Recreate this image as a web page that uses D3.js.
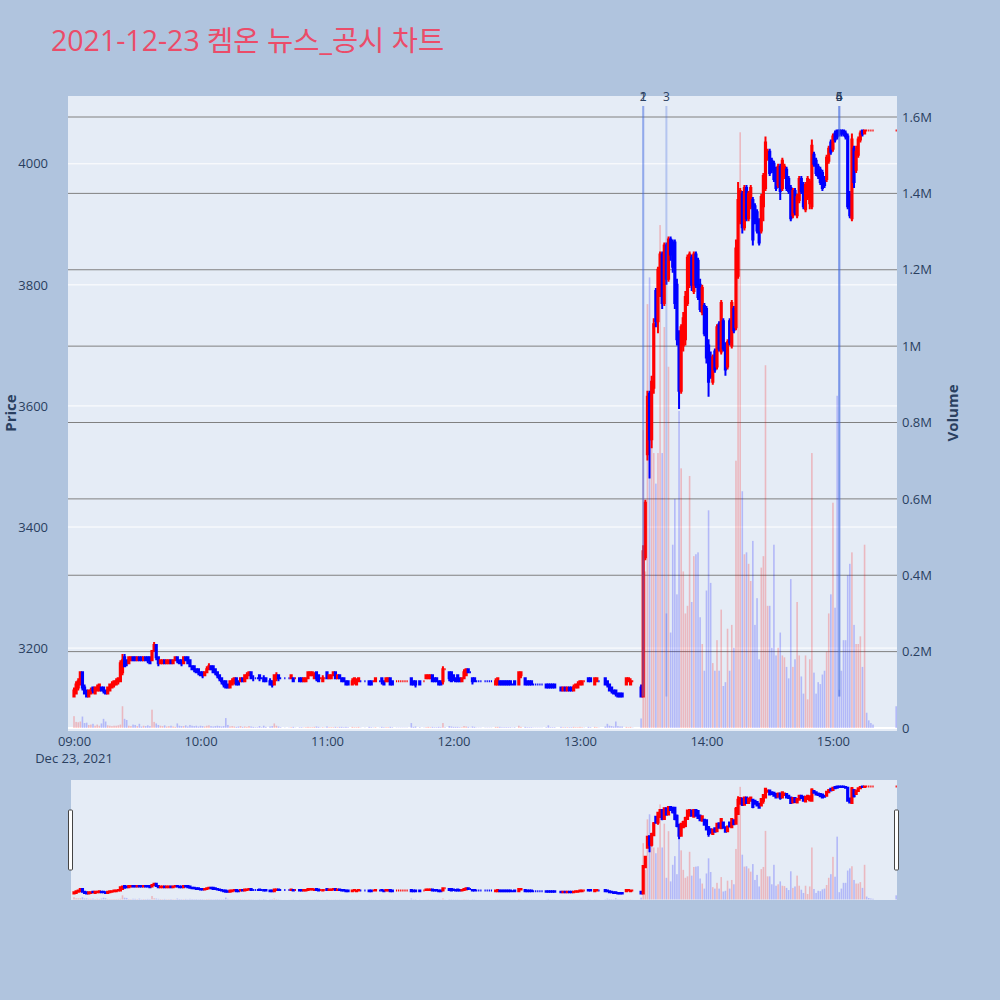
<!DOCTYPE html>
<html><head><meta charset="utf-8">
<script src="https://cdn.jsdelivr.net/npm/d3@7"></script>
<style>body{margin:0;background:#b0c4de}</style>
</head><body><div id="chart"></div>
<script>
const titleText = "2021-12-23 켐온 뉴스_공시 차트";
const tradeDay = "2021-12-23";
const times = [
"09:00","09:01","09:02","09:03","09:04","09:05","09:06","09:07","09:08","09:09",
"09:10","09:11","09:12","09:13","09:14","09:15","09:16","09:17","09:18","09:19",
"09:20","09:21","09:22","09:23","09:24","09:25","09:26","09:27","09:28","09:29",
"09:30","09:31","09:32","09:33","09:34","09:35","09:36","09:37","09:38","09:39",
"09:40","09:41","09:42","09:43","09:44","09:45","09:46","09:47","09:48","09:49",
"09:50","09:51","09:52","09:53","09:54","09:55","09:56","09:57","09:58","09:59",
"10:00","10:01","10:02","10:03","10:04","10:05","10:06","10:07","10:08","10:09",
"10:10","10:11","10:12","10:13","10:14","10:15","10:16","10:17","10:18","10:19",
"10:20","10:21","10:22","10:23","10:24","10:25","10:26","10:27","10:28","10:29",
"10:30","10:31","10:33","10:34","10:35","10:36","10:37","10:38","10:40","10:42",
"10:43","10:44","10:45","10:47","10:48","10:49","10:50","10:51","10:52","10:53",
"10:54","10:55","10:56","10:57","10:58","10:59","11:00","11:01","11:02","11:03",
"11:04","11:05","11:06","11:07","11:08","11:09","11:10","11:12","11:13","11:14",
"11:15","11:16","11:18","11:20","11:21","11:22","11:23","11:25","11:26","11:27",
"11:28","11:29","11:30","11:31","11:33","11:34","11:35","11:36","11:37","11:38",
"11:40","11:41","11:42","11:44","11:46","11:47","11:48","11:49","11:50","11:51",
"11:52","11:53","11:54","11:55","11:56","11:58","11:59","12:00","12:01","12:02",
"12:03","12:04","12:05","12:06","12:07","12:08","12:09","12:10","12:11","12:12",
"12:13","12:15","12:16","12:17","12:18","12:20","12:21","12:22","12:23","12:24",
"12:25","12:26","12:27","12:28","12:29","12:31","12:32","12:34","12:35","12:36",
"12:37","12:38","12:39","12:40","12:41","12:42","12:44","12:45","12:46","12:47",
"12:48","12:51","12:52","12:53","12:54","12:55","12:56","12:57","12:58","12:59",
"13:00","13:01","13:02","13:04","13:05","13:07","13:08","13:09","13:12","13:13",
"13:14","13:15","13:16","13:17","13:18","13:19","13:20","13:22","13:23","13:24",
"13:25","13:29","13:30","13:31","13:32","13:33","13:34","13:35","13:36","13:37",
"13:38","13:39","13:40","13:41","13:42","13:43","13:44","13:45","13:46","13:47",
"13:48","13:49","13:50","13:51","13:52","13:53","13:54","13:55","13:56","13:57",
"13:58","13:59","14:00","14:01","14:02","14:03","14:04","14:05","14:06","14:07",
"14:08","14:09","14:10","14:11","14:12","14:13","14:14","14:15","14:16","14:17",
"14:18","14:19","14:20","14:21","14:22","14:23","14:24","14:25","14:26","14:27",
"14:28","14:29","14:30","14:31","14:32","14:33","14:34","14:35","14:36","14:37",
"14:38","14:39","14:40","14:41","14:42","14:43","14:44","14:45","14:46","14:47",
"14:48","14:49","14:50","14:51","14:52","14:53","14:54","14:55","14:56","14:57",
"14:58","14:59","15:00","15:01","15:02","15:03","15:04","15:05","15:06","15:07",
"15:08","15:09","15:10","15:11","15:12","15:13","15:14","15:15","15:16","15:17",
"15:18","15:19","15:30"];
const open = [
3120,3125,3135,3140,3160,3135,3130,3120,3125,3135,
3125,3130,3130,3135,3135,3130,3125,3130,3135,3140,
3140,3145,3145,3160,3185,3180,3175,3180,3185,3185,
3180,3185,3185,3180,3185,3185,3185,3180,3195,3205,
3185,3175,3175,3180,3175,3175,3180,3175,3180,3185,
3180,3180,3175,3185,3185,3180,3170,3170,3165,3165,
3160,3160,3155,3160,3165,3170,3170,3165,3160,3155,
3150,3145,3145,3140,3135,3140,3145,3150,3145,3145,
3150,3145,3150,3155,3160,3150,3150,3150,3155,3150,
3150,3150,3145,3145,3140,3150,3155,3150,3150,3150,
3150,3150,3150,3150,3150,3145,3145,3150,3155,3155,
3150,3160,3155,3150,3145,3150,3160,3150,3150,3155,
3160,3150,3155,3150,3150,3145,3145,3140,3145,3140,
3145,3145,3145,3145,3145,3145,3145,3145,3150,3145,
3145,3145,3150,3145,3145,3145,3145,3145,3145,3145,
3150,3145,3145,3145,3145,3150,3150,3150,3155,3150,
3150,3145,3145,3145,3165,3160,3160,3155,3150,3155,
3150,3145,3150,3155,3165,3160,3150,3150,3145,3145,
3145,3145,3145,3145,3145,3140,3140,3145,3145,3145,
3145,3145,3145,3140,3145,3140,3155,3150,3145,3145,
3145,3140,3140,3140,3140,3140,3140,3140,3140,3140,
3140,3135,3130,3135,3130,3135,3135,3130,3135,3135,
3140,3140,3145,3150,3150,3140,3145,3145,3150,3145,
3140,3135,3130,3130,3125,3125,3125,3140,3145,3140,
3145,3135,3120,3350,3520,3620,3545,3630,3790,3740,
3790,3850,3770,3865,3810,3875,3870,3870,3800,3720,
3625,3700,3710,3770,3800,3845,3790,3850,3840,3800,
3755,3765,3760,3700,3680,3640,3690,3665,3735,3690,
3740,3700,3665,3740,3700,3760,3730,3815,3905,3950,
3895,3960,3910,3930,3940,3930,3920,3905,3890,3930,
3960,4010,4020,4005,4000,3990,3965,3995,3960,3980,
3990,3975,3960,3915,3955,3915,3940,3975,3965,3925,
3945,3935,3930,4015,4005,3995,3990,3985,3975,3975,
4005,4035,4025,4050,4055,4055,4055,4055,4050,4045,
3950,3910,4025,3990,4015,4040,4055,4050,4055,4055,
4055,4055,4055];
const high = [
3135,3145,3150,3160,3160,3140,3130,3130,3135,3135,
3135,3140,3140,3135,3135,3130,3135,3140,3145,3145,
3150,3150,3180,3190,3190,3180,3185,3185,3185,3185,
3185,3185,3185,3185,3185,3185,3185,3195,3210,3205,
3185,3180,3180,3180,3180,3180,3180,3180,3185,3185,
3180,3180,3185,3185,3185,3180,3170,3170,3165,3165,
3160,3160,3160,3170,3175,3170,3170,3165,3160,3155,
3150,3145,3145,3140,3145,3150,3150,3150,3145,3150,
3150,3155,3160,3160,3160,3155,3150,3150,3155,3150,
3155,3150,3150,3145,3155,3160,3155,3150,3150,3150,
3155,3150,3150,3150,3150,3150,3150,3160,3160,3160,
3160,3160,3155,3150,3155,3150,3160,3155,3155,3160,
3160,3155,3155,3150,3150,3145,3145,3150,3150,3150,
3150,3145,3145,3145,3145,3145,3150,3145,3150,3145,
3150,3150,3150,3145,3145,3145,3145,3145,3145,3145,
3150,3145,3145,3145,3145,3155,3155,3155,3155,3150,
3150,3145,3145,3170,3165,3160,3160,3155,3150,3155,
3150,3150,3165,3165,3165,3160,3150,3150,3145,3145,
3145,3145,3145,3145,3145,3150,3150,3145,3145,3145,
3145,3145,3145,3140,3145,3160,3160,3150,3145,3145,
3145,3140,3140,3140,3140,3140,3140,3140,3140,3140,
3140,3135,3135,3135,3135,3135,3135,3140,3140,3145,
3145,3145,3145,3150,3150,3150,3150,3145,3150,3145,
3140,3135,3130,3130,3125,3125,3125,3150,3150,3150,
3145,3140,3370,3445,3625,3625,3650,3745,3795,3830,
3855,3855,3870,3870,3880,3880,3875,3875,3810,3725,
3735,3755,3790,3850,3855,3850,3855,3855,3845,3810,
3800,3770,3765,3710,3690,3685,3695,3735,3740,3775,
3745,3705,3710,3745,3775,3765,3875,3970,3960,3955,
3965,3965,3955,3965,3945,3935,3925,3910,3950,3985,
4045,4025,4025,4010,4005,3995,4000,4000,4010,4000,
3995,3980,3965,3960,3960,3950,3980,3980,3970,3970,
3980,3975,4040,4020,4010,4000,3995,3990,3980,4015,
4030,4040,4050,4055,4055,4055,4055,4055,4055,4050,
3955,4050,4030,4030,4045,4055,4055,4055,4055,4055,
4055,4055,4055];
const low = [
3120,3125,3130,3140,3130,3125,3120,3120,3125,3125,
3125,3130,3130,3130,3125,3125,3125,3130,3135,3135,
3140,3140,3145,3155,3170,3170,3175,3180,3180,3180,
3180,3180,3180,3180,3180,3175,3175,3180,3195,3180,
3170,3175,3175,3175,3175,3175,3175,3175,3180,3175,
3175,3170,3175,3180,3175,3170,3165,3160,3160,3155,
3155,3150,3155,3160,3165,3165,3160,3155,3150,3145,
3140,3135,3135,3135,3135,3140,3140,3140,3140,3145,
3145,3145,3150,3155,3150,3145,3150,3150,3145,3150,
3145,3145,3140,3135,3140,3145,3145,3150,3150,3150,
3150,3145,3150,3145,3145,3145,3145,3150,3155,3155,
3150,3145,3145,3150,3145,3150,3150,3150,3150,3155,
3150,3150,3150,3145,3145,3140,3140,3140,3140,3140,
3145,3145,3145,3140,3140,3145,3145,3145,3140,3140,
3145,3145,3140,3140,3145,3145,3145,3145,3145,3145,
3140,3140,3135,3140,3145,3150,3150,3150,3145,3145,
3145,3140,3140,3140,3165,3145,3145,3145,3145,3145,
3145,3145,3150,3155,3160,3160,3140,3145,3145,3145,
3145,3145,3145,3145,3145,3140,3140,3140,3140,3140,
3140,3140,3140,3140,3140,3140,3150,3140,3140,3140,
3140,3140,3140,3140,3140,3140,3135,3135,3135,3135,
3135,3130,3130,3130,3130,3130,3130,3130,3135,3135,
3140,3140,3145,3145,3145,3140,3145,3145,3140,3135,
3130,3125,3125,3120,3120,3120,3120,3140,3145,3140,
3145,3120,3120,3345,3510,3480,3530,3620,3730,3720,
3780,3760,3765,3800,3805,3840,3820,3760,3700,3595,
3620,3690,3700,3765,3795,3790,3785,3795,3775,3755,
3750,3715,3670,3615,3645,3635,3655,3660,3690,3685,
3690,3650,3660,3700,3695,3720,3725,3810,3900,3885,
3890,3905,3905,3925,3865,3900,3885,3865,3885,3905,
3955,4005,3980,3985,3970,3955,3960,3940,3955,3975,
3955,3950,3905,3910,3915,3910,3935,3950,3925,3920,
3940,3925,3925,3995,3980,3975,3965,3955,3960,3970,
4000,4015,4020,4035,4040,4045,4045,4045,4040,3925,
3910,3905,3960,3985,4010,4035,4045,4050,4055,4055,
4055,4055,4055];
const close = [
3130,3140,3145,3160,3135,3125,3120,3130,3130,3130,
3135,3135,3140,3130,3130,3125,3135,3140,3140,3145,
3145,3150,3175,3180,3170,3175,3185,3185,3180,3180,
3185,3180,3180,3185,3180,3180,3175,3195,3205,3185,
3175,3180,3180,3175,3180,3180,3175,3180,3185,3180,
3175,3175,3185,3180,3175,3170,3165,3165,3160,3160,
3155,3155,3160,3165,3170,3165,3160,3160,3155,3150,
3145,3140,3135,3135,3145,3145,3150,3140,3140,3150,
3145,3155,3155,3160,3150,3150,3150,3150,3150,3150,
3145,3145,3140,3140,3155,3155,3150,3150,3150,3150,
3155,3145,3150,3145,3145,3150,3150,3160,3160,3160,
3155,3150,3145,3150,3150,3150,3150,3155,3155,3160,
3150,3155,3150,3145,3145,3140,3140,3145,3150,3145,
3150,3145,3145,3140,3140,3145,3150,3145,3145,3140,
3150,3150,3140,3140,3145,3145,3145,3145,3145,3145,
3140,3140,3140,3140,3145,3155,3155,3155,3145,3145,
3145,3140,3140,3165,3165,3150,3145,3150,3145,3145,
3145,3150,3160,3165,3160,3160,3145,3145,3145,3145,
3145,3145,3145,3145,3145,3145,3150,3140,3140,3140,
3140,3140,3140,3140,3140,3160,3160,3140,3140,3140,
3140,3140,3140,3140,3140,3140,3135,3135,3135,3135,
3135,3130,3135,3130,3135,3130,3130,3135,3140,3140,
3145,3145,3145,3145,3145,3150,3150,3145,3140,3140,
3130,3130,3125,3125,3120,3120,3120,3150,3150,3145,
3145,3120,3360,3440,3615,3545,3640,3735,3740,3825,
3850,3770,3865,3810,3875,3850,3830,3770,3710,3625,
3730,3745,3780,3845,3850,3800,3850,3800,3780,3760,
3795,3720,3680,3640,3650,3680,3660,3730,3695,3770,
3695,3660,3705,3705,3770,3725,3860,3940,3955,3895,
3960,3910,3950,3960,3875,3905,3890,3870,3945,3980,
4035,4020,3985,3990,3975,3960,3995,3955,4005,3995,
3960,3955,3910,3955,3920,3945,3975,3955,3930,3965,
3975,3970,4030,4000,3985,3980,3970,3960,3965,4010,
4025,4020,4045,4040,4045,4050,4050,4050,4045,3930,
3915,4040,3970,4020,4040,4050,4050,4055,4055,4055,
4055,4055,4055];
const volume = [
31000,16000,15000,17000,30000,13000,14000,8000,9000,11000,
6000,9000,6000,12000,24000,17000,7000,6000,5000,6000,
6000,7000,9000,57000,24000,21000,6000,5000,9000,8000,
5000,11000,4000,6000,5000,7000,5000,48000,16000,12000,
8000,6000,5000,7000,4000,5000,6000,4000,3000,12000,
6000,5000,5000,7000,4000,8000,6000,5000,6000,4000,
6000,5000,4000,6000,7000,5000,4000,5000,6000,5000,
4000,5000,26000,8000,4000,5000,4000,3000,4000,5000,
3000,4000,3000,5000,4000,3000,2000,2000,5000,2000,
6000,3000,4000,5000,12000,6000,4000,2000,1000,1000,
2000,3000,1000,2000,2000,1000,2000,3000,2000,2000,
3000,4000,3000,1000,2000,1000,4000,2000,2000,2000,
3000,2000,3000,3000,2000,3000,2000,3000,2000,2000,
3000,1000,1000,3000,2000,1000,2000,1000,3000,2000,
2000,2000,3000,2000,1000,1000,1000,1000,1000,1000,
13000,3000,4000,2000,1000,2000,3000,2000,3000,2000,
2000,3000,2000,13000,2000,5000,4000,3000,3000,3000,
2000,2000,5000,4000,3000,1000,4000,3000,1000,1000,
1000,1000,1000,1000,1000,3000,3000,3000,2000,2000,
2000,2000,2000,1000,2000,6000,3000,3000,2000,2000,
2000,1000,1000,1000,1000,1000,2000,7000,2000,2000,
2000,3000,2000,2000,2000,2000,2000,3000,2000,2000,
3000,2000,1000,3000,2000,3000,2000,1000,4000,11000,
6000,5000,4000,17000,5000,4000,4000,3000,2000,3000,
1000,25000,780000,410000,1110000,1180000,800000,720000,640000,720000,
1317000,720000,1050000,300000,946000,250000,480000,600000,350000,830000,
680000,410000,300000,320000,660000,330000,450000,455000,460000,290000,
220000,150000,360000,570000,380000,170000,150000,230000,150000,310000,
110000,120000,260000,150000,270000,210000,700000,1270000,1560000,620000,
455000,460000,430000,385000,490000,270000,340000,180000,420000,450000,
950000,320000,320000,210000,480000,190000,210000,250000,190000,185000,
160000,130000,390000,160000,180000,330000,190000,135000,90000,190000,
75000,180000,720000,145000,90000,120000,115000,140000,150000,200000,
300000,350000,590000,315000,870000,100000,150000,230000,230000,400000,
430000,460000,270000,220000,220000,240000,160000,480000,40000,20000,
13000,9000,57000];
const newsTimes = ["13:30","13:30","13:41","15:03","15:03","15:03"];
const newsLabels = ["1","2","3","4","5","6"];
const xTickTimes = ["09:00","10:00","11:00","12:00","13:00","14:00","15:00"];
const xDateLabel = "Dec 23, 2021";
const priceTicks = [3200,3400,3600,3800,4000];
const volumeTicks = [0,200000,400000,600000,800000,1000000,1200000,1400000,1600000];
const volumeTickLabels = ["0","0.2M","0.4M","0.6M","0.8M","1M","1.2M","1.4M","1.6M"];

const FONT = "'Open Sans', 'Noto Sans CJK KR', sans-serif";
const INK = "#2a3f5f";
const UP = "#ff0000", DOWN = "#0000ff";
const parseT = d3.timeParse("%Y-%m-%d %H:%M");
const toDate = t => parseT(tradeDay + " " + t);
const n = Math.min(times.length, open.length, high.length, low.length, close.length, volume.length);
const dates = times.slice(0, n).map(toDate);

// plotly-style increasing/decreasing rule
let inc = true, cPrev = null;
const isUp = [];
for (let i = 0; i < n; i++) {
  const o = open[i], c = close[i];
  if (c === o) { if (cPrev !== null && c !== cPrev) inc = c > cPrev; }
  else inc = c > o;
  cPrev = c;
  isUp.push(inc);
}

const W = 1000, H = 1000;
const L = 68, R = 897, T = 96, B = 731;
const svg = d3.select("#chart").append("svg").attr("width", W).attr("height", H)
  .style("font-family", FONT);
svg.append("rect").attr("width", W).attr("height", H).attr("fill", "#b0c4de");

const x = d3.scaleTime()
  .domain([new Date(2021, 11, 23, 8, 57, 9), new Date(2021, 11, 23, 15, 30, 23)])
  .range([L, R]);
const priceDomain = [3063, 4112];
const volDomain = [-7860, 1655000];
const yP = d3.scaleLinear().domain(priceDomain).range([B, T]);
const yV = d3.scaleLinear().domain(volDomain).range([B, T]);

// title
svg.append("text").attr("x", 51).attr("y", 51).attr("font-size", 28.5)
  .attr("fill", "#eb4c69").text(titleText);

// plot background
svg.append("rect").attr("x", L).attr("y", T).attr("width", R - L).attr("height", B - T).attr("fill", "#e5ecf6");

const defs = svg.append("defs");
defs.append("clipPath").attr("id", "clipMain").append("rect")
  .attr("x", L).attr("y", T).attr("width", R - L).attr("height", B - T);

// gridlines
const grid = svg.append("g");
grid.selectAll("line.pg").data(priceTicks).join("line")
  .attr("x1", L).attr("x2", R).attr("y1", d => yP(d)).attr("y2", d => yP(d))
  .attr("stroke", "#ffffff").attr("stroke-width", 1);
grid.selectAll("line.vg").data(volumeTicks.filter(v => v > 0)).join("line").attr("class", "vg")
  .attr("x1", L).attr("x2", R).attr("y1", d => yV(d)).attr("y2", d => yV(d))
  .attr("stroke", "#808080").attr("stroke-width", 1);
grid.append("line").attr("x1", L).attr("x2", R).attr("y1", yV(0)).attr("y2", yV(0))
  .attr("stroke", "#ffffff").attr("stroke-width", 2);

function drawPanel(g, xs, yp, yv) {
  const bodyHalf = 0.6;
  const idx = d3.range(n);
  g.append("g").selectAll("path").data(idx).join("path")
    .attr("d", i => {
      const cx = xs(dates[i]);
      const yo = yp(open[i]), yc = yp(close[i]), yh = yp(high[i]), yl = yp(low[i]);
      const top = Math.min(yo, yc), bot = Math.max(yo, yc);
      return `M${cx - bodyHalf},${yo}H${cx + bodyHalf}V${yc}H${cx - bodyHalf}Z` +
             `M${cx},${top}V${yh}M${cx},${bot}V${yl}`;
    })
    .attr("fill", i => isUp[i] ? UP : DOWN)
    .attr("stroke", i => isUp[i] ? UP : DOWN)
    .attr("stroke-width", 2);
  g.append("g").selectAll("rect").data(idx).join("rect")
    .attr("x", i => xs(dates[i]) - 0.8).attr("width", 1.6)
    .attr("y", i => yv(volume[i])).attr("height", i => Math.max(0, yv(0) - yv(volume[i])))
    .attr("fill", i => close[i] > open[i] ? UP : DOWN).attr("fill-opacity", 0.22);
}

const main = svg.append("g").attr("clip-path", "url(#clipMain)");
drawPanel(main, x, yP, yV);

// news lines
const lowMin = d3.min(low.slice(0, n)), highMax = d3.max(high.slice(0, n));
const lineTop = highMax * 1.01;
const news = svg.append("g");
news.selectAll("line").data(newsTimes).join("line")
  .attr("x1", d => x(toDate(d))).attr("x2", d => x(toDate(d)))
  .attr("y1", yP(lowMin)).attr("y2", yP(lineTop))
  .attr("stroke", "royalblue").attr("stroke-width", 2).attr("stroke-opacity", 0.3);
news.selectAll("text").data(newsTimes).join("text")
  .attr("x", d => x(toDate(d))).attr("y", yP(lineTop) - 5)
  .attr("text-anchor", "middle").attr("font-size", 12).attr("fill", INK)
  .text((d, i) => newsLabels[i]);

// axes
const xAxis = d3.axisBottom(x).tickValues(xTickTimes.map(toDate))
  .tickFormat(d3.timeFormat("%H:%M")).tickSize(0).tickPadding(6);
const gx = svg.append("g").attr("transform", `translate(0,${B})`).call(xAxis);
gx.select(".domain").remove();
gx.selectAll("text").attr("font-size", 13).attr("fill", INK).attr("font-family", FONT);
svg.append("text").attr("x", x(toDate(xTickTimes[0]))).attr("y", 763)
  .attr("text-anchor", "middle").attr("font-size", 13).attr("fill", INK).text(xDateLabel);

const yAxisL = d3.axisLeft(yP).tickValues(priceTicks).tickFormat(d3.format("d")).tickSize(0).tickPadding(20);
const gyl = svg.append("g").attr("transform", `translate(${L},0)`).call(yAxisL);
gyl.select(".domain").remove();
gyl.selectAll("text").attr("font-size", 13).attr("fill", INK).attr("font-family", FONT);

const yAxisR = d3.axisRight(yV).tickValues(volumeTicks)
  .tickFormat((d, i) => volumeTickLabels[i]).tickSize(0).tickPadding(5);
const gyr = svg.append("g").attr("transform", `translate(${R},0)`).call(yAxisR);
gyr.select(".domain").remove();
gyr.selectAll("text").attr("font-size", 13).attr("fill", INK).attr("font-family", FONT);

svg.append("text").attr("transform", "translate(16,413) rotate(-90)")
  .attr("text-anchor", "middle").attr("font-size", 15).attr("font-weight", "bold")
  .attr("fill", INK).text("Price");
svg.append("text").attr("transform", "translate(958,413) rotate(-90)")
  .attr("text-anchor", "middle").attr("font-size", 15).attr("font-weight", "bold")
  .attr("fill", INK).text("Volume");

// range slider
const sT = 780, sB = 900, sL = 71, sR = 897;
svg.append("rect").attr("x", sL).attr("y", sT).attr("width", sR - sL).attr("height", sB - sT).attr("fill", "#e5ecf6");
defs.append("clipPath").attr("id", "clipSlider").append("rect")
  .attr("x", sL).attr("y", sT).attr("width", sR - sL).attr("height", sB - sT);
const yPs = d3.scaleLinear().domain(priceDomain).range([sB, sT]);
const yVs = d3.scaleLinear().domain(volDomain).range([sB, sT]);
const slider = svg.append("g").attr("clip-path", "url(#clipSlider)");
drawPanel(slider, x, yPs, yVs);
[[68.5], [894.5]].forEach(([hx]) => {
  svg.append("rect").attr("x", hx).attr("y", 810).attr("width", 4).attr("height", 60)
    .attr("rx", 1).attr("fill", "#ffffff").attr("stroke", "#444").attr("stroke-width", 1);
});
</script>
</body></html>
